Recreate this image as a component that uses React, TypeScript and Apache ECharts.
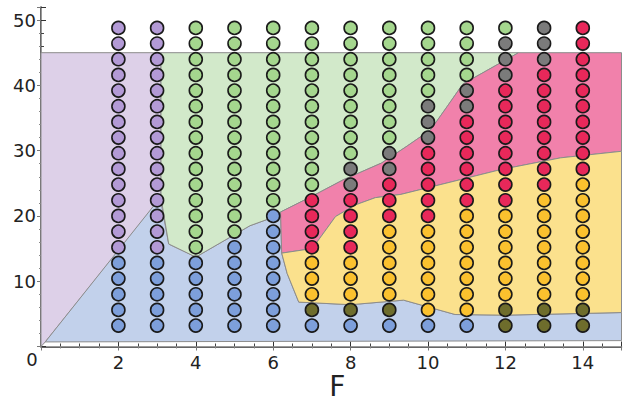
import React, { useEffect, useRef } from "react";
import * as echarts from "echarts";

const xColumns = [2, 3, 4, 5, 6, 7, 8, 9, 10, 11, 12, 13, 14];
const yRows = [3.2, 5.6, 8.0, 10.4, 12.8, 15.2, 17.6, 20.0, 22.4, 24.8, 27.2, 29.6, 32.0, 34.4, 36.8, 39.2, 41.6, 44.0, 46.4, 48.8];
// phase of each dot, bottom -> top: B blue, P purple, G green, R red, K gray, Y yellow, O olive
const columnClasses = [
  "BBBBBPPPPPPPPPPPPPPP",
  "BBBBBPPPPPPPPPPPPPPP",
  "BBBBBGGGGGGGGGGGGGGG",
  "BBBBBBGGGGGGGGGGGGGG",
  "BBBBBBBBGGGGGGGGGGGG",
  "BOYYYRRRRGGGGGGGGGGG",
  "BOYYYRRRRKKGGGGGGGGG",
  "BOYYYYYRRRKKGGGGGGGG",
  "BYYYYYYRRRRRKKKGGGGG",
  "BYYYYYYYRRRRRRKKGGGG",
  "OOYYYYYYRRRRRRRRKKKG",
  "OOYYYYYYYRRRRRRRRKKK",
  "OOYYYYYYYYRRRRRRRRRR",
];
const dotClasses = ["B", "P", "G", "R", "K", "Y", "O"];
const dotColors: Record<string, string> = {
  B: "#7d9fdb",
  P: "#b39ad6",
  G: "#a5d78e",
  R: "#e8285a",
  K: "#7b7b7b",
  Y: "#fbc12e",
  O: "#6e6d2c",
};

// phase regions (polygons in data coordinates)
const purpleRegion = [[0, 0], [0, 45], [3.1, 45], [3.1, 22.8], [0.11, 0.7]];
const blueRegion = [[0.11, 0.7], [3.08, 22.8], [3.3, 15.7], [4, 13.7], [5.4, 18.5], [6, 19.8], [6.19, 20.6], [6.22, 14.3], [6.36, 11.2], [6.66, 6.8], [8, 6.4], [9.37, 7.1], [10.7, 4.9], [12, 4.8], [15, 5.2], [15, 0.9]];
const greenRegion = [[3.1, 45], [12.34, 45], [10.9, 40.2], [10.5, 36.8], [10.07, 33.2], [9.46, 30.7], [8.8, 28.1], [7.8, 25.5], [7.0, 23], [6.19, 20.6], [6, 19.8], [5.4, 18.5], [4, 13.7], [3.3, 15.7], [3.1, 22.8]];
const pinkRegion = [[6.19, 20.6], [7.0, 23], [7.8, 25.5], [8.8, 28.1], [9.46, 30.7], [10.07, 33.2], [10.5, 36.8], [10.9, 40.2], [12.34, 45], [15, 45], [15, 29.9], [13.43, 28.9], [11.88, 27.1], [10.8, 25.5], [9.3, 23.3], [8.64, 22.8], [8.13, 21.7], [7.61, 19.9], [7.01, 15.0], [6.22, 14.3]];
const yellowRegion = [[6.22, 14.3], [7.01, 15.0], [7.61, 19.9], [8.13, 21.7], [8.64, 22.8], [9.3, 23.3], [10.8, 25.5], [11.88, 27.1], [13.43, 28.9], [15, 29.9], [15, 5.2], [12, 4.8], [10.7, 4.9], [9.37, 7.1], [8, 6.4], [6.66, 6.8], [6.36, 11.2]];
const regions = [purpleRegion, blueRegion, greenRegion, pinkRegion, yellowRegion];
const regionColors = ["#ddd0e8", "#c2d1eb", "#d2e9ca", "#f181ab", "#fbe18d"];

const FONT = "DejaVu Sans";

export default function App() {
  const ref = useRef<HTMLDivElement>(null);
  useEffect(() => {
    if (!ref.current) return;
    const chart = echarts.init(ref.current, null, { renderer: "svg" });

    const scatterSeries = dotClasses.map((cls) => {
      const data: number[][] = [];
      columnClasses.forEach((col, ci) => {
        for (let r = 0; r < col.length; r++) {
          if (col[r] === cls) data.push([xColumns[ci], yRows[r]]);
        }
      });
      return {
        type: "scatter",
        name: cls,
        data,
        symbol: "circle",
        symbolSize: 13,
        z: 5,
        itemStyle: { color: dotColors[cls], borderColor: "#1a1a1a", borderWidth: 1.6, opacity: 1 },
        emphasis: { disabled: true },
      };
    });

    const regionSeries = {
      type: "custom",
      z: 1,
      silent: true,
      data: regions.map((_, i) => [i, 0]),
      renderItem: (params: any, api: any) => {
        const poly = regions[params.dataIndex];
        const points = poly.map((p) => api.coord(p));
        return {
          type: "polygon",
          shape: { points },
          style: { fill: regionColors[params.dataIndex], stroke: "#8c8c8c", lineWidth: 1 },
        };
      },
    };

    const frameAxis = {
      axisLine: { show: true, lineStyle: { color: "#9a9a9a", width: 1 } },
      axisLabel: { show: false },
      splitLine: { show: false },
    };

    chart.setOption({
      animation: false,
      grid: { left: 41, right: 6.5, top: 7, bottom: 56.5, outerBoundsMode: "none", containLabel: false },
      xAxis: [
        {
          type: "value",
          min: 0,
          max: 15,
          interval: 2,
          name: "F",
          nameLocation: "middle",
          nameMoveOverlap: false,
          nameGap: 26,
          nameTextStyle: { fontSize: 28, lineHeight: 28, color: "#222", fontFamily: FONT, padding: [0, 0, 0, 12] },
          axisLine: { show: true, onZero: false, lineStyle: { color: "#333", width: 1.5 } },
          axisTick: { show: true, inside: true, length: 5, lineStyle: { color: "#333" } },
          minorTick: { show: true, splitNumber: 4, length: 3, lineStyle: { color: "#444" } },
          axisLabel: {
            fontSize: 18,
            color: "#222",
            fontFamily: FONT,
            margin: 7,
            showMaxLabel: false,
            formatter: (v: number) => (v === 0 ? "" : String(v)),
          },
          splitLine: { show: false },
        },
        {
          type: "value",
          position: "top",
          min: 0,
          max: 15,
          interval: 2,
          ...frameAxis,
          axisTick: { show: true, inside: true, length: 4, lineStyle: { color: "#777" } },
          minorTick: { show: true, splitNumber: 4, length: 2, lineStyle: { color: "#888" } },
        },
      ],
      yAxis: [
        {
          type: "value",
          min: 0,
          max: 52,
          interval: 10,
          axisLine: { show: true, onZero: false, lineStyle: { color: "#333", width: 1.5 } },
          axisTick: { show: true, inside: true, length: 5, lineStyle: { color: "#333" } },
          minorTick: { show: true, splitNumber: 5, length: 3, lineStyle: { color: "#444" } },
          axisLabel: {
            fontSize: 18,
            color: "#222",
            fontFamily: FONT,
            margin: 5,
            showMaxLabel: false,
            formatter: (v: number) => (v === 0 ? "" : String(v)),
          },
          splitLine: { show: false },
        },
        {
          type: "value",
          position: "right",
          min: 0,
          max: 52,
          interval: 10,
          ...frameAxis,
          axisTick: { show: true, inside: true, length: 4, lineStyle: { color: "#777" } },
          minorTick: { show: true, splitNumber: 5, length: 2, lineStyle: { color: "#888" } },
        },
      ],
      graphic: [
        {
          type: "text",
          x: 32,
          y: 359,
          style: { text: "0", fontSize: 18, fill: "#222", fontFamily: FONT, align: "center", verticalAlign: "middle" },
        },
      ],
      series: [regionSeries, ...scatterSeries],
    });
    return () => chart.dispose();
  }, []);
  return <div ref={ref} style={{ position: "fixed", left: 0, top: 0, width: 628, height: 403, background: "#fff" }} />;
}
